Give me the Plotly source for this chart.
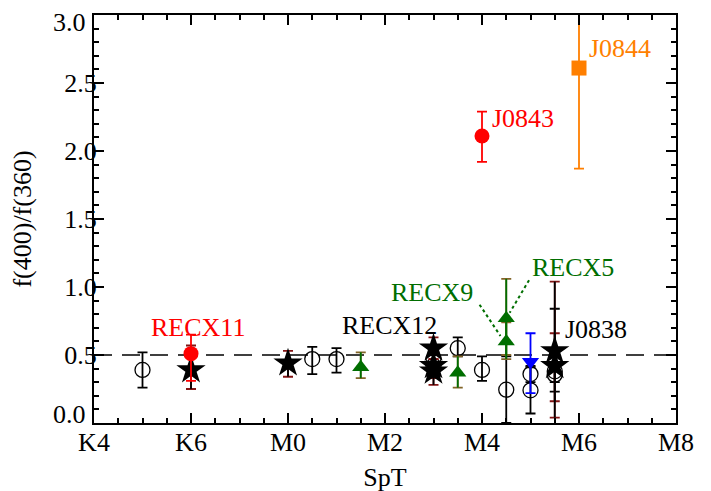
import plotly.graph_objects as go

# ---------------- data ----------------
# open circles
circ_x = [5, 8.5, 9, 11, 11, 11.5, 12, 12.5, 13, 13, 13.5, 13.5]
circ_y = [0.39, 0.47, 0.47, 0.47, 0.42, 0.55, 0.39, 0.245, 0.36, 0.24, 0.38, 0.355]
circ_lo = [0.26, 0.36, 0.37, 0.40, 0.35, 0.49, 0.31, 0.0, 0.30, 0.07, 0.23, 0.30]
circ_hi = [0.52, 0.56, 0.55, 0.55, 0.50, 0.63, 0.49, 0.49, 0.42, 0.41, 0.84, 0.42]

# filled stars
star_x = [6, 8, 11, 11, 11, 13.5, 13.5]
star_y = [0.39, 0.44, 0.55, 0.42, 0.38, 0.53, 0.42]
star_lo = [0.25, 0.34, 0.47, 0.33, 0.28, 0.04, 0.16]
star_hi = [0.57, 0.53, 0.63, 0.52, 0.47, 1.04, 0.66]

# green triangles
tri_x = [9.5, 11.5, 12.5, 12.5]
tri_y = [0.41, 0.37, 0.77, 0.60]
tri_lo = [0.33, 0.26, 0.50, 0.47]
tri_hi = [0.52, 0.49, 1.06, 0.74]

# blue down triangle
blue_x = [13]
blue_y = [0.45]
blue_lo = [0.22]
blue_hi = [0.66]

# red circles
red_x = [6, 12]
red_y = [0.51, 2.11]
red_lo = [0.31, 1.92]
red_hi = [0.65, 2.29]

# orange square
org_x = [14]
org_y = [2.61]
org_lo = [1.87]
org_hi = [3.40]

xtick_vals = [4, 6, 8, 10, 12, 14, 16]
xtick_text = ["K4", "K6", "M0", "M2", "M4", "M6", "M8"]
ytick_vals = [0.0, 0.5, 1.0, 1.5, 2.0, 2.5, 3.0]
ref_level = 0.5

labels = [
    ("RECX11", 6.14, 0.70, "rgb(255,0,0)"),
    ("RECX12", 10.10, 0.72, "black"),
    ("RECX9", 10.97, 0.96, "rgb(0,110,0)"),
    ("RECX5", 13.87, 1.14, "rgb(0,110,0)"),
    ("J0838", 14.35, 0.69, "black"),
    ("J0843", 12.85, 2.24, "rgb(255,0,0)"),
    ("J0844", 14.84, 2.755, "rgb(255,127,0)"),
]
leader_x = [[11.95, 12.38], [12.97, 12.57]]
leader_y = [[0.87, 0.64], [1.05, 0.81]]

FONT = "Liberation Serif, Times New Roman, DejaVu Serif, serif"
GREEN = "rgb(0,110,0)"
DRED = "rgb(130,20,20)"


def err(y, lo, hi):
    return [h - v for v, h in zip(y, hi)], [v - l for v, l in zip(y, lo)]


fig = go.Figure()


def add_series(x, y, lo, hi, symbol, size, color, barcolor, capcolor, open_=False):
    plus, minus = err(y, lo, hi)
    if capcolor != barcolor:
        fig.add_trace(go.Scatter(
            x=x, y=y, mode="markers", marker=dict(size=1, opacity=0),
            error_y=dict(type="data", symmetric=False, array=plus, arrayminus=minus,
                         color=capcolor, thickness=1.8, width=5),
            showlegend=False, hoverinfo="skip"))
        w = 0
    else:
        w = 5
    fig.add_trace(go.Scatter(
        x=x, y=y, mode="markers",
        marker=dict(symbol=symbol, size=size, color=color,
                    line=dict(color=color, width=1.3 if open_ else 0)),
        error_y=dict(type="data", symmetric=False, array=plus, arrayminus=minus,
                     color=barcolor, thickness=1.8, width=w),
        showlegend=False))


add_series(circ_x, circ_y, circ_lo, circ_hi, "circle-open", 15, "black", "black", "black", open_=True)
add_series(star_x, star_y, star_lo, star_hi, "star", 22, "black", "black", DRED)
add_series(tri_x, tri_y, tri_lo, tri_hi, "triangle-up", 15, GREEN, GREEN, "rgb(130,100,40)")
add_series(blue_x, blue_y, blue_lo, blue_hi, "triangle-down", 15, "rgb(0,0,255)", "rgb(0,0,255)", "rgb(0,0,255)")
add_series(red_x, red_y, red_lo, red_hi, "circle", 15, "rgb(255,0,0)", "rgb(255,0,0)", "rgb(255,0,0)")
add_series(org_x, org_y, org_lo, org_hi, "square", 15, "rgb(255,127,0)", "rgb(255,127,0)", "rgb(255,127,0)")

for lx, ly in zip(leader_x, leader_y):
    fig.add_trace(go.Scatter(x=lx, y=ly, mode="lines",
                             line=dict(color=GREEN, width=2, dash="dot"),
                             showlegend=False, hoverinfo="skip"))

fig.add_shape(type="line", xref="paper", x0=0, x1=1, yref="y", y0=ref_level, y1=ref_level,
              line=dict(color="black", width=1.5, dash="18px,10px"), layer="below")

for txt, tx, ty, col in labels:
    fig.add_annotation(x=tx, y=ty, text=txt, showarrow=False,
                       font=dict(family=FONT, size=26, color=col),
                       xanchor="center", yanchor="middle")

# end labels of the y axis are nudged inwards (as in the original figure)
ytick_text = ["" if v in (ytick_vals[0], ytick_vals[-1]) else f"{v:.1f}" for v in ytick_vals]
for v, shift in ((ytick_vals[0], 9), (ytick_vals[-1], -7)):
    fig.add_annotation(x=0, xref="paper", xanchor="right", xshift=-6, y=v, yref="y",
                       yanchor="middle", yshift=shift, text=f"{v:.1f}", showarrow=False,
                       font=dict(family=FONT, size=26, color="black"))

axis_common = dict(showline=True, linecolor="black", linewidth=2, mirror="allticks",
                   ticks="inside", tickcolor="black", tickwidth=1.5, showgrid=False,
                   zeroline=False, automargin=False, ticklabeloverflow="allow",
                   tickfont=dict(family=FONT, size=26, color="black"))

fig.update_layout(
    width=711, height=491,
    margin=dict(l=86, r=43, t=7, b=76),
    paper_bgcolor="white", plot_bgcolor="white",
    xaxis=dict(range=[4, 16], tickvals=xtick_vals, ticktext=xtick_text, ticklen=10,
               ticklabelstandoff=-5,
               minor=dict(dtick=0.5, tick0=4, ticks="inside", ticklen=5, tickcolor="black", tickwidth=1.5),
               title=dict(text="SpT", font=dict(family=FONT, size=26, color="black"), standoff=12),
               **axis_common),
    yaxis=dict(range=[0, 3], tickvals=ytick_vals, ticktext=ytick_text, ticklen=10,
               ticklabelstandoff=-10,
               minor=dict(dtick=0.1, ticks="inside", ticklen=5, tickcolor="black", tickwidth=1.5),
               title=dict(text="f(400)/f(360)", font=dict(family=FONT, size=26, color="black"), standoff=26),
               **axis_common),
)

fig.write_html("out.html")
